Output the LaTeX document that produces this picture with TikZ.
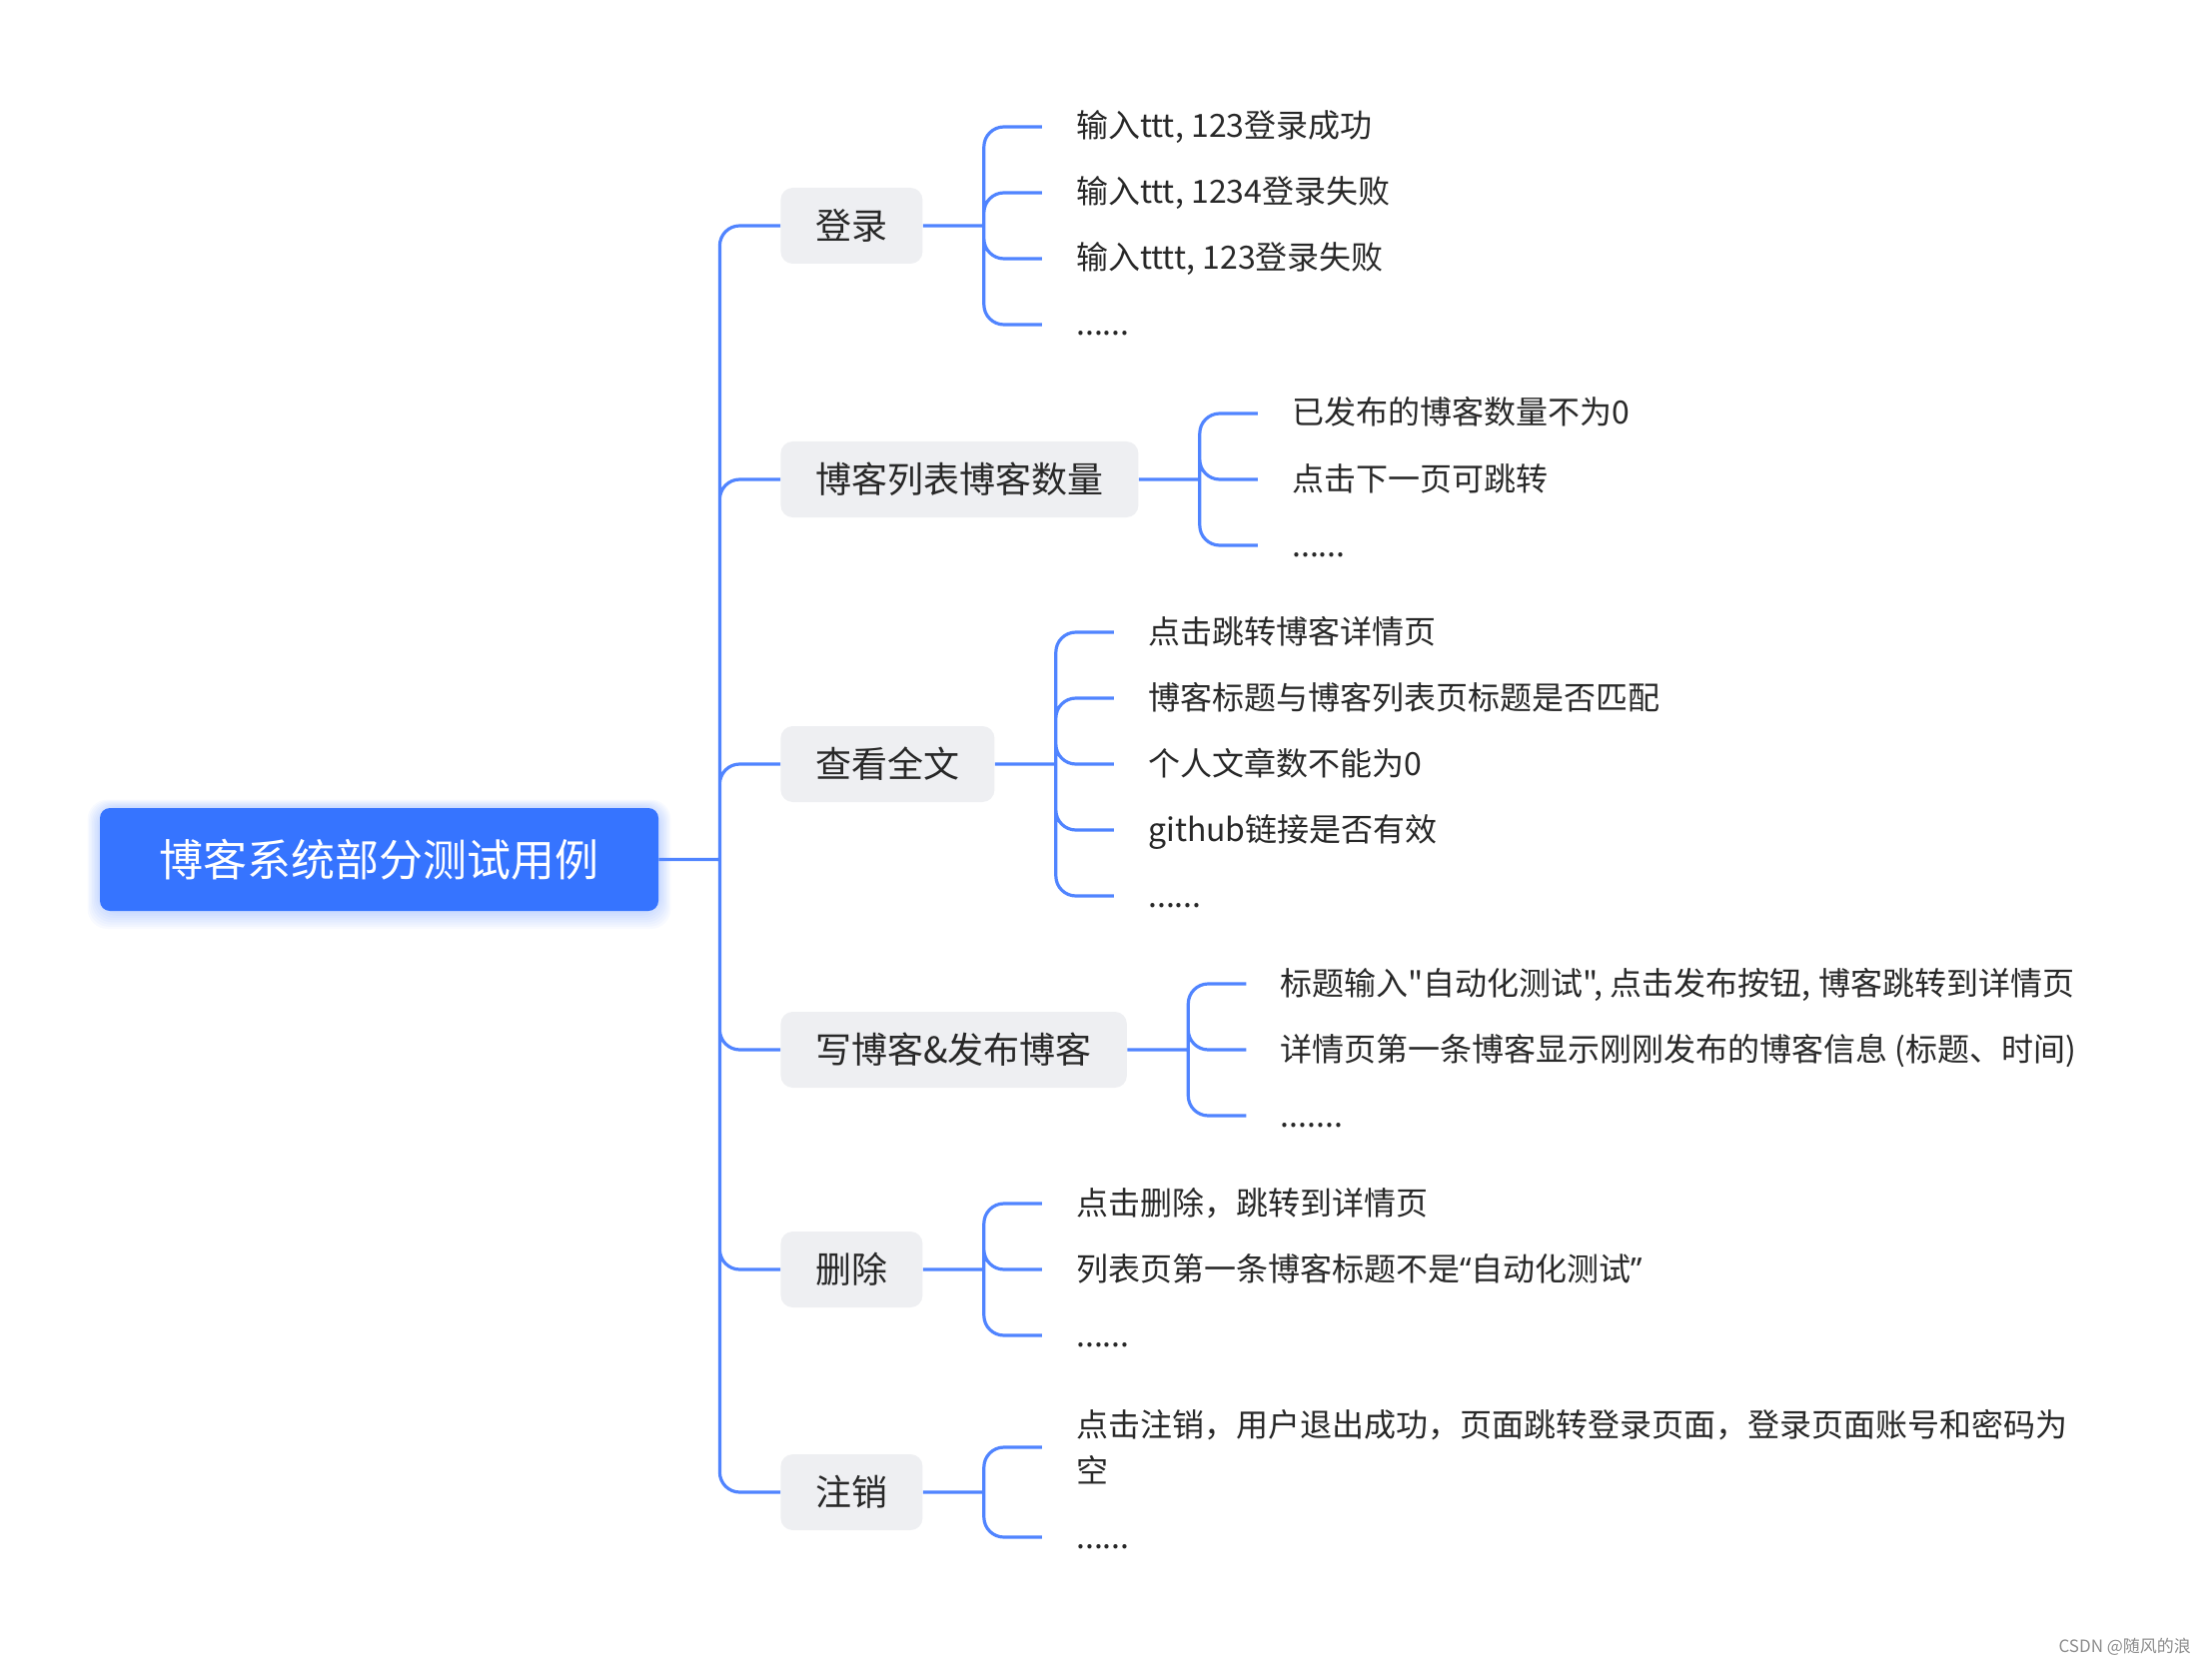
\documentclass[tikz,border=0pt]{standalone}
\usepackage{fontspec}
\setmainfont{Noto Sans CJK SC}[Ligatures=TeXOff]
\newfontfamily\quotefont{Noto Sans}
\usepackage{xcolor}
\definecolor{rootblue}{RGB}{54,116,255}
\definecolor{linkblue}{RGB}{80,132,255}
\definecolor{boxgray}{RGB}{238,239,242}
\definecolor{textgray}{RGB}{40,40,40}
\usepackage{tikz}
\usetikzlibrary{calc}
\usetikzlibrary{backgrounds}
\newcommand{\forkgap}{61}
\newcommand{\openq}{{\quotefont “}}
\newcommand{\closeq}{{\quotefont ”}}
\tikzset{
    common/.style={anchor=west, text=textgray},
    root/.style={fill=rootblue, text=white, rounded corners=5pt, minimum width=279.5pt, minimum height=51.5pt, font=\fontsize{22pt}{26pt}\selectfont},
    topic/.style={common, fill=boxgray, rounded corners=6pt, inner xsep=17.5pt, minimum height=38pt, font=\fontsize{18pt}{22pt}\selectfont},
    leaf/.style={common, inner xsep=17pt, inner ysep=0pt, text height=14pt, text depth=3pt, font=\fontsize{16pt}{23pt}\selectfont},
    longleaf/.style={common, inner xsep=17pt, inner ysep=0pt, align=left, font=\fontsize{16pt}{23pt}\selectfont},
    link/.style={linkblue, line width=1.6pt, rounded corners=10pt},
    credit/.style={anchor=east, text=black!45, font=\fontsize{8.5pt}{10pt}\selectfont}
}

\begin{document}
\begin{tikzpicture}[x=0.5pt, y=0.5pt]
          \useasboundingbox (0,0) rectangle (2214,-1668);

          \node[root] (root) at (379.5,-860.5) {博客系统部分测试用例};
          \begin{scope}[on background layer]
            \foreach \g in {1,...,8}
              \fill[rootblue, opacity=0.035, rounded corners=10pt] ($(root.south west)+(-1.5*\g,-2.2*\g)$) rectangle ($(root.north east)+(1.5*\g,1*\g)$);
          \end{scope}

          \node[topic] (login) at (781,-226) {登录};
          \node[topic] (bloglist) at (781,-480) {博客列表博客数量};
          \node[topic] (fulltext) at (781,-765) {查看全文};
          \node[topic] (publish) at (781,-1051) {写博客\&发布博客};
          \node[topic] (delete) at (781,-1271) {删除};
          \node[topic] (logout) at (781,-1494) {注销};

          \coordinate (trunk) at ($(root.east)+(\forkgap,0)$);
          \draw[link] (root.east) -- (trunk)
            (trunk) |- (login.west)
            (trunk) |- (bloglist.west)
            (trunk) |- (fulltext.west)
            (trunk) |- (publish.west)
            (trunk) |- (delete.west)
            (trunk) |- (logout.west);

          \coordinate (login-fork) at ($(login.east)+(\forkgap,0)$);
          \path (login-fork) ++(58,99) node[leaf] (login-ok) {输入ttt, 123登录成功}
              ++(270:66) node[leaf] (login-badpwd) {输入ttt, 1234登录失败}
              ++(270:66) node[leaf] (login-baduser) {输入tttt, 123登录失败}
              ++(270:66) node[leaf] (login-more) {......};

          \draw[link] (login.east) -- (login-fork)
            (login-fork) |- (login-ok.west)
            (login-fork) |- (login-badpwd.west)
            (login-fork) |- (login-baduser.west)
            (login-fork) |- (login-more.west);

          \coordinate (bloglist-fork) at ($(bloglist.east)+(\forkgap,0)$);
          \path (bloglist-fork) ++(58,66) node[leaf] (bloglist-count) {已发布的博客数量不为0}
              ++(270:66) node[leaf] (bloglist-next) {点击下一页可跳转}
              ++(270:66) node[leaf] (bloglist-more) {......};

          \draw[link] (bloglist.east) -- (bloglist-fork)
            (bloglist-fork) |- (bloglist-count.west)
            (bloglist-fork) |- (bloglist-next.west)
            (bloglist-fork) |- (bloglist-more.west);

          \coordinate (fulltext-fork) at ($(fulltext.east)+(\forkgap,0)$);
          \path (fulltext-fork) ++(58,132) node[leaf] (fulltext-open) {点击跳转博客详情页}
              ++(270:66) node[leaf] (fulltext-title) {博客标题与博客列表页标题是否匹配}
              ++(270:66) node[leaf] (fulltext-posts) {个人文章数不能为0}
              ++(270:66) node[leaf] (fulltext-github) {github链接是否有效}
              ++(270:66) node[leaf] (fulltext-more) {......};

          \draw[link] (fulltext.east) -- (fulltext-fork)
            (fulltext-fork) |- (fulltext-open.west)
            (fulltext-fork) |- (fulltext-title.west)
            (fulltext-fork) |- (fulltext-posts.west)
            (fulltext-fork) |- (fulltext-github.west)
            (fulltext-fork) |- (fulltext-more.west);

          \coordinate (publish-fork) at ($(publish.east)+(\forkgap,0)$);
          \path (publish-fork) ++(58,66) node[leaf] (publish-submit) {标题输入"自动化测试", 点击发布按钮, 博客跳转到详情页}
              ++(270:66) node[leaf] (publish-first) {详情页第一条博客显示刚刚发布的博客信息 (标题、时间)}
              ++(270:66) node[leaf] (publish-more) {.......};

          \draw[link] (publish.east) -- (publish-fork)
            (publish-fork) |- (publish-submit.west)
            (publish-fork) |- (publish-first.west)
            (publish-fork) |- (publish-more.west);

          \coordinate (delete-fork) at ($(delete.east)+(\forkgap,0)$);
          \path (delete-fork) ++(58,66) node[leaf] (delete-click) {点击删除，跳转到详情页}
              ++(270:66) node[leaf] (delete-first) {列表页第一条博客标题不是\openq 自动化测试\closeq}
              ++(270:66) node[leaf] (delete-more) {......};

          \draw[link] (delete.east) -- (delete-fork)
            (delete-fork) |- (delete-click.west)
            (delete-fork) |- (delete-first.west)
            (delete-fork) |- (delete-more.west);

          \coordinate (logout-fork) at ($(logout.east)+(\forkgap,0)$);
          \path (logout-fork) ++(58,45) node[longleaf] (logout-click) {点击注销，用户退出成功，页面跳转登录页面，登录页面账号和密码为\\空}
              ++(270:90) node[leaf] (logout-more) {......};

          \draw[link] (logout.east) -- (logout-fork)
            (logout-fork) |- (logout-click.west)
            (logout-fork) |- (logout-more.west);

          \node[credit] (credit) at (2200,-1649) {CSDN @随风的浪};
        \end{tikzpicture}
\end{document}
